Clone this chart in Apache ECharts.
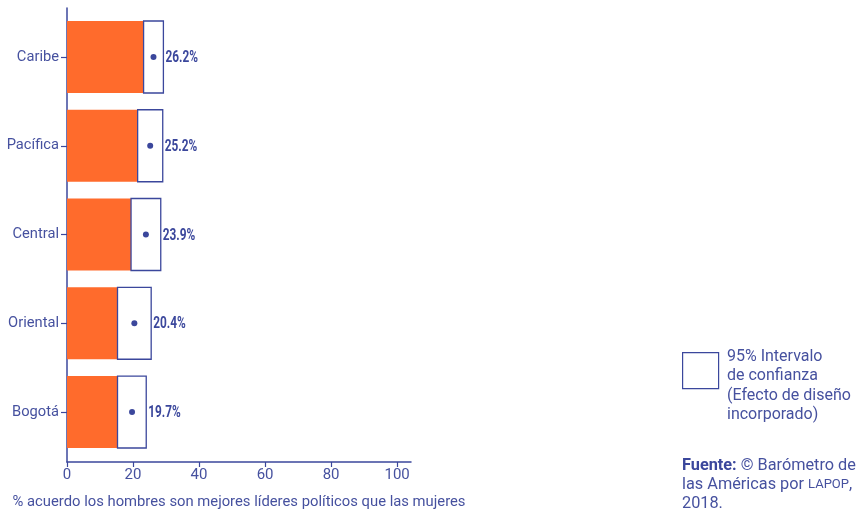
<!DOCTYPE html>
<html><head><meta charset="utf-8">
<script src="https://cdn.jsdelivr.net/npm/echarts@6/dist/echarts.min.js"></script>
<style>html,body{margin:0;padding:0;background:#fff}#c{width:860px;height:509px}</style>
</head><body><div id="c"></div>
<script>
const categories = ['Caribe', 'Pacífica', 'Central', 'Oriental', 'Bogotá'];
const means = [26.2, 25.2, 23.9, 20.4, 19.7];
const lowers = [23.2, 21.4, 19.4, 15.3, 15.3];
const uppers = [29.2, 29.0, 28.4, 25.5, 24.0];
const xTicks = [0, 20, 40, 60, 80, 100];
const xTitle = '% acuerdo los hombres son mejores líderes políticos que las mujeres';

const NAVY = '#3b479c';
const TEXT = '#46519f';
const ORANGE = '#ff6b2c';
const FONT = 'Roboto, "Noto Sans", sans-serif';

const data = categories.map((c, i) => [i, lowers[i], uppers[i], means[i]]);

const chart = echarts.init(document.getElementById('c'));
chart.setOption({
  animation: false,
  grid: { left: 67, top: 8, right: 449, bottom: 47, containLabel: false, outerBoundsMode: 'none' },
  xAxis: {
    type: 'value', min: 0, max: 104.2,
    splitLine: { show: false },
    axisLine: { show: true, onZero: false, lineStyle: { color: NAVY, width: 1.5 } },
    axisTick: { show: true, length: 5, lineStyle: { color: NAVY, width: 1.2 }, customValues: xTicks },
    axisLabel: { color: TEXT, fontSize: 15, fontFamily: FONT, margin: 6, customValues: xTicks },
    name: xTitle, nameLocation: 'middle', nameGap: 33,
    nameTextStyle: { color: TEXT, fontSize: 14.8, fontFamily: FONT }
  },
  yAxis: {
    type: 'value', inverse: true, min: -0.552, max: 4.563,
    splitLine: { show: false },
    axisLine: { show: true, onZero: false, lineStyle: { color: NAVY, width: 1.5 } },
    axisTick: { show: true, length: 6, lineStyle: { color: NAVY, width: 1.2 }, customValues: [0, 1, 2, 3, 4] },
    axisLabel: {
      color: TEXT, fontSize: 14.7, fontFamily: FONT, margin: 8,
      customValues: [0, 1, 2, 3, 4],
      formatter: v => categories[Math.round(v)] || ''
    }
  },
  series: [{
    type: 'custom',
    data: data,
    encode: { x: [1, 2, 3], y: 0 },
    renderItem: function (params, api) {
      const i = api.value(0), lo = api.value(1), up = api.value(2), m = api.value(3);
      const p0 = api.coord([0, i]);
      const pl = api.coord([lo, i]);
      const pu = api.coord([up, i]);
      const pm = api.coord([m, i]);
      const h = Math.abs(api.size([0, 0.811])[1]);
      return {
        type: 'group',
        children: [
          { type: 'rect', shape: { x: p0[0], y: p0[1] - h / 2, width: pl[0] - p0[0], height: h },
            style: { fill: ORANGE } },
          { type: 'rect', shape: { x: pl[0], y: p0[1] - h / 2, width: pu[0] - pl[0], height: h },
            style: { fill: '#fff', stroke: NAVY, lineWidth: 1.3 } },
          { type: 'circle', shape: { cx: pm[0], cy: pm[1], r: 3 }, style: { fill: NAVY } },
          { type: 'text', x: pu[0] + 2, y: pm[1] + 1, scaleX: 0.74,
            style: { text: m.toFixed(1) + '%', fill: NAVY, font: 'bold 16px ' + FONT,
                     textAlign: 'left', textVerticalAlign: 'middle' } }
        ]
      };
    }
  }],
  graphic: [
    { type: 'rect', left: 682, top: 352, shape: { width: 36, height: 36 },
      style: { fill: '#fff', stroke: NAVY, lineWidth: 1.2 } },
    { type: 'text', left: 727, top: 347,
      style: { text: '95% Intervalo\nde confianza\n(Efecto de diseño\nincorporado)',
               fill: TEXT, font: '16px ' + FONT, lineHeight: 19.5 } },
    { type: 'text', left: 682, top: 457,
      style: {
        text: '{b|Fuente:} © Barómetro de\nlas Américas por {s|LAPOP},\n2018.',
        fill: TEXT, font: '16.3px ' + FONT, lineHeight: 18.7,
        rich: {
          b: { fontWeight: 'bold', fontSize: 16.3, fontFamily: FONT, fill: NAVY, lineHeight: 18.7 },
          s: { fontSize: 13, fontFamily: FONT, fill: TEXT, lineHeight: 18.7 }
        }
      } }
  ]
});
</script>
</body></html>
